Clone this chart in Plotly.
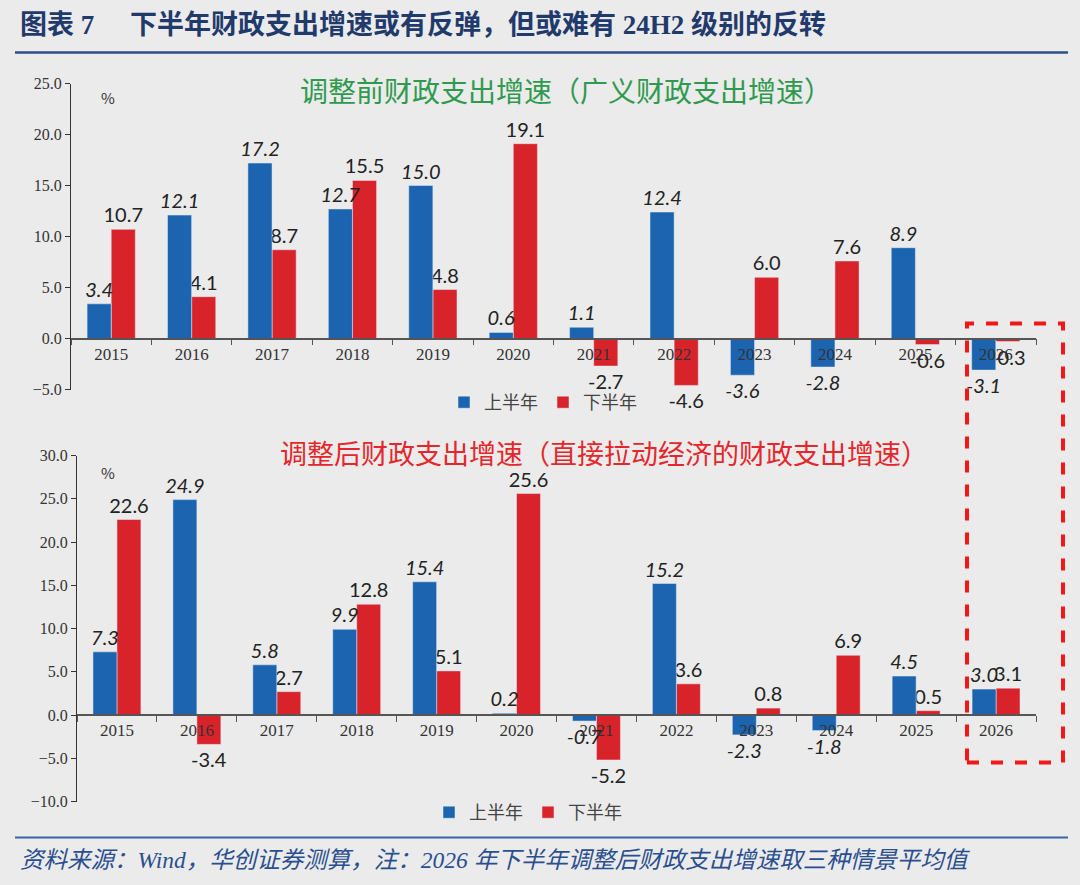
import plotly.graph_objects as go

# 数据
years = ["2015", "2016", "2017", "2018", "2019", "2020", "2021", "2022", "2023", "2024", "2025", "2026"]
# 调整前财政支出增速（广义）
pre_h1 = [3.4, 12.1, 17.2, 12.7, 15.0, 0.6, 1.1, 12.4, -3.6, -2.8, 8.9, -3.1]
pre_h2 = [10.7, 4.1, 8.7, 15.5, 4.8, 19.1, -2.7, -4.6, 6.0, 7.6, -0.6, -0.3]
# 调整后财政支出增速（直接拉动经济）
post_h1 = [7.3, 24.9, 5.8, 9.9, 15.4, 0.2, -0.7, 15.2, -2.3, -1.8, 4.5, 3.0]
post_h2 = [22.6, -3.4, 2.7, 12.8, 5.1, 25.6, -5.2, 3.6, 0.8, 6.9, 0.5, 3.1]

BLUE = "#1c64b0"
RED = "#d9232b"
BG = "#ebebeb"
NUM_FONT = "Lato, Open Sans, sans-serif"
SERIF = "Liberation Serif, Times New Roman, serif"
CJK = "Noto Sans CJK SC, sans-serif"

W, H = 1080, 885
# 截图里竖直方向大约是 7.5px 起、868px 高
Y0, HE = 7.5, 868.0


def px(p):
    return p / W


def py(p):
    return 1 - (p - Y0) / HE


top_x = [px(71), px(1036)]
top_y = [py(389), py(83)]
top_rng = [-5, 25]
bot_x = [px(77), px(1036)]
bot_y = [py(801), py(455)]
bot_rng = [-10, 30]


def zero_pos(dom, rng):
    # x 轴放在 y=0 处
    return dom[0] + (0 - rng[0]) / (rng[1] - rng[0]) * (dom[1] - dom[0])


fig = go.Figure()


def add_bars(h1, h2, xa, ya, leg):
    # 先画下半年，上半年的数字压在红柱上面
    fig.add_trace(go.Bar(x=years, y=h2, name="下半年", marker_color=RED,
                         xaxis=xa, yaxis=ya, legend=leg, offset=0, width=0.3,
                         texttemplate="%{y:.1f}", textposition="outside",
                         textfont=dict(family=NUM_FONT, size=20, color="#222"),
                         cliponaxis=False, constraintext="none"))
    fig.add_trace(go.Bar(x=years, y=h1, name="上半年", marker_color=BLUE,
                         xaxis=xa, yaxis=ya, legend=leg, offset=-0.3, width=0.3,
                         texttemplate="%{y:.1f}", textposition="outside",
                         textfont=dict(family=NUM_FONT, size=20, color="#222", style="italic"),
                         cliponaxis=False, constraintext="none"))


add_bars(pre_h1, pre_h2, "x", "y", "legend")
add_bars(post_h1, post_h2, "x2", "y2", "legend2")

xaxis_common = dict(type="category", anchor="free", showline=True, linecolor="#555",
                    linewidth=1.5, ticks="outside", tickson="boundaries", ticklen=6,
                    tickcolor="#555", tickfont=dict(family=SERIF, size=17, color="#333"),
                    showgrid=False, zeroline=False, layer="above traces")
yaxis_common = dict(showline=True, linecolor="#333", linewidth=1, ticks="outside",
                    ticklen=5, tickcolor="#333", dtick=5, tickformat=".1f",
                    tickfont=dict(family=SERIF, size=16, color="#333"),
                    showgrid=False, zeroline=False)

legend_common = dict(orientation="h", xanchor="center", yanchor="middle",
                     bgcolor="rgba(0,0,0,0)", font=dict(family=CJK, size=18, color="#444"),
                     itemwidth=30, traceorder="reversed")

fig.update_layout(
    width=W, height=H,
    margin=dict(l=0, r=0, t=0, b=0),
    paper_bgcolor=BG, plot_bgcolor=BG,
    barmode="overlay",
    xaxis=dict(domain=top_x, position=zero_pos(top_y, top_rng), **xaxis_common),
    yaxis=dict(domain=top_y, range=top_rng, anchor="x", **yaxis_common),
    xaxis2=dict(domain=bot_x, position=zero_pos(bot_y, bot_rng), **xaxis_common),
    yaxis2=dict(domain=bot_y, range=bot_rng, anchor="x2", **yaxis_common),
    legend=dict(x=px(543), y=py(402), **legend_common),
    legend2=dict(x=px(528), y=py(812), **legend_common),
    showlegend=True,
)

title_font = dict(family=SERIF + ", " + CJK, size=27, color="#1f3a6b")
annotations = [
    dict(text="<b>图表 7</b>", x=px(18), y=py(25), xanchor="left", font=title_font),
    dict(text="<b>下半年财政支出增速或有反弹，但或难有 24H2 级别的反转</b>", x=px(128), y=py(25),
         xanchor="left", font=title_font),
    dict(text="调整前财政支出增速（广义财政支出增速）", x=px(566), y=py(90),
         font=dict(family=CJK, size=28, color="#2f9a4e")),
    dict(text="调整后财政支出增速（直接拉动经济的财政支出增速）", x=px(604), y=py(452),
         font=dict(family=CJK, size=27, color="#e5262b")),
    dict(text="%", x=px(108), y=py(97), font=dict(family=CJK, size=15, color="#333")),
    dict(text="%", x=px(108), y=py(472), font=dict(family=CJK, size=15, color="#333")),
    dict(text="<i>资料来源：Wind，华创证券测算，注：2026 年下半年调整后财政支出增速取三种情景平均值</i>",
         x=px(18), y=py(859), xanchor="left",
         font=dict(family=SERIF + ", " + CJK, size=23.5, color="#2a4f8f")),
]
for a in annotations:
    a.update(xref="paper", yref="paper", showarrow=False, yanchor="middle")
    a.setdefault("xanchor", "center")
fig.update_layout(annotations=annotations)

fig.update_layout(shapes=[
    dict(type="line", xref="paper", yref="paper", x0=px(15), x1=px(1068),
         y0=py(52), y1=py(52), line=dict(color="#2d4f8a", width=2.5)),
    dict(type="line", xref="paper", yref="paper", x0=px(15), x1=px(1068),
         y0=py(837), y1=py(837), line=dict(color="#3864a8", width=2)),
    dict(type="rect", xref="paper", yref="paper", x0=px(967), x1=px(1063),
         y0=py(762), y1=py(323), line=dict(color="#f01818", width=4, dash="dash")),
])

# 图固定在窗口左上角，不受页面边距影响
pin = ("document.body.style.margin='0';"
       "var g=document.querySelector('.plotly-graph-div');"
       "g.style.position='fixed';g.style.left='0';g.style.top='0';")
fig.write_html("out.html", config={"displayModeBar": False}, post_script=pin)
